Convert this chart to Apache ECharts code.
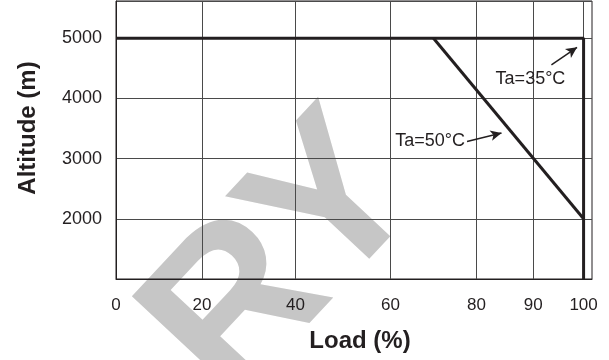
<!DOCTYPE html>
<html>
<head>
<meta charset="utf-8">
<script src="https://cdn.jsdelivr.net/npm/echarts@6/dist/echarts.min.js"></script>
<style>
html,body{margin:0;padding:0;background:#fff;}
#chart{width:609px;height:360px;}
</style>
</head>
<body>
<div id="chart"></div>
<script>
// ---- data ----
const loadTicks = [0, 20, 40, 60, 80, 90, 100];
const loadTickLabels = ['0', '20', '40', '60', '80', '90', '100'];
const altitudeTicks = [2000, 3000, 4000, 5000];

const ta35Load = [0, 100, 100];
const ta35Altitude = [5000, 5000, 1000];

const ta50Load = [70, 100];
const ta50Altitude = [5000, 2000];

const annotationTexts = ['Ta=35°C', 'Ta=50°C'];
const annotationTextLoad = [89.5, 69.2];
const annotationTextAltitude = [4330, 3285];
const arrowFromLoad = [93.6, 77.8];
const arrowFromAltitude = [4560, 3285];
const arrowToLoad = [98.7, 84.4];
const arrowToAltitude = [4850, 3425];

// ---- hand-drawn (non-uniform) load scale of the original figure ----
const LOAD_AXIS_STOPS = [0, 18.4, 38.4, 58.7, 77.1, 89.25, 100];
const LOAD_AXIS_END = 101.8;
function loadPos(v) {
  for (let i = 0; i < loadTicks.length - 1; i++) {
    const a = loadTicks[i], b = loadTicks[i + 1];
    if (v <= b || i === loadTicks.length - 2) {
      return LOAD_AXIS_STOPS[i] + (v - a) / (b - a) * (LOAD_AXIS_STOPS[i + 1] - LOAD_AXIS_STOPS[i]);
    }
  }
}
function labelAt(pos) {
  let best = 0, d = Infinity;
  LOAD_AXIS_STOPS.forEach((p, i) => { if (Math.abs(p - pos) < d) { d = Math.abs(p - pos); best = i; } });
  return d < 0.5 ? loadTickLabels[best] : '';
}

const INK = '#231f20';
const FONT = '"Liberation Sans", Arial, Helvetica, sans-serif';

const chart = echarts.init(document.getElementById('chart'), null, {renderer: 'canvas'});
chart.setOption({
  animation: false,
  backgroundColor: '#ffffff',
  textStyle: {fontFamily: FONT},
  grid: {
    left: 116, right: 17, top: 1, bottom: 81,
    show: true, borderColor: INK, borderWidth: 1,
    containLabel: false, outerBoundsMode: 'none'
  },
  graphic: [{
    type: 'text', x: 286, y: 261, rotation: 0.82, z: -100, silent: true,
    style: {
      text: 'RY', fill: '#c6c6c6', font: 'bold 215px ' + FONT,
      align: 'center', verticalAlign: 'middle'
    }
  }],
  xAxis: {
    type: 'value', min: 0, max: LOAD_AXIS_END,
    name: 'Load (%)', nameLocation: 'middle', nameGap: 50,
    nameTextStyle: {fontSize: 24, fontWeight: 'bold', color: INK, fontFamily: FONT, padding: [0, 0, 0, 12]},
    axisLine: {show: true, lineStyle: {color: INK, width: 1}},
    axisTick: {show: false},
    splitLine: {show: false},
    axisLabel: {
      customValues: loadTicks.map(loadPos),
      formatter: v => labelAt(v),
      fontSize: 17, color: INK, margin: 18, fontFamily: FONT,
      showMinLabel: true, showMaxLabel: true
    }
  },
  yAxis: {
    type: 'value', min: 1000, max: 5620, interval: 1000,
    name: 'Altitude (m)', nameLocation: 'middle', nameGap: 76,
    nameTextStyle: {fontSize: 24, fontWeight: 'bold', color: INK, fontFamily: FONT, padding: [0, 0, 0, 24]},
    axisLine: {show: true, lineStyle: {color: INK, width: 1}},
    axisTick: {show: false},
    splitLine: {show: true, lineStyle: {color: '#4a4a4a', width: 1}},
    axisLabel: {
      formatter: v => altitudeTicks.includes(v) ? String(v) : '',
      fontSize: 18, color: INK, margin: 14, fontFamily: FONT
    }
  },
  series: [
    {
      name: 'grid', type: 'line', data: [], silent: true,
      markLine: {
        silent: true, symbol: ['none', 'none'], label: {show: false},
        lineStyle: {color: '#4a4a4a', width: 1, type: 'solid'},
        data: loadTicks.slice(1).map(v => ({xAxis: loadPos(v)}))
      }
    },
    {
      name: 'Ta=35°C', type: 'line', z: 5,
      data: ta35Load.map((l, i) => [loadPos(l), ta35Altitude[i]]),
      showSymbol: false, lineStyle: {color: INK, width: 3}
    },
    {
      name: 'Ta=50°C', type: 'line', z: 5,
      data: ta50Load.map((l, i) => [loadPos(l), ta50Altitude[i]]),
      showSymbol: false, lineStyle: {color: INK, width: 3},
      markLine: {
        silent: true, symbol: ['none', 'arrow'], symbolSize: [8, 11],
        label: {show: false},
        lineStyle: {color: INK, width: 1.5, type: 'solid'},
        data: arrowFromLoad.map((l, i) => [
          {coord: [loadPos(l), arrowFromAltitude[i]]},
          {coord: [loadPos(arrowToLoad[i]), arrowToAltitude[i]]}
        ])
      },
      markPoint: {
        silent: true, symbol: 'circle', symbolSize: 0,
        label: {show: true, position: 'inside', fontSize: 18, color: INK, fontFamily: FONT, formatter: p => p.name},
        data: annotationTexts.map((t, i) => ({name: t, coord: [loadPos(annotationTextLoad[i]), annotationTextAltitude[i]]}))
      }
    }
  ]
});
</script>
</body>
</html>
